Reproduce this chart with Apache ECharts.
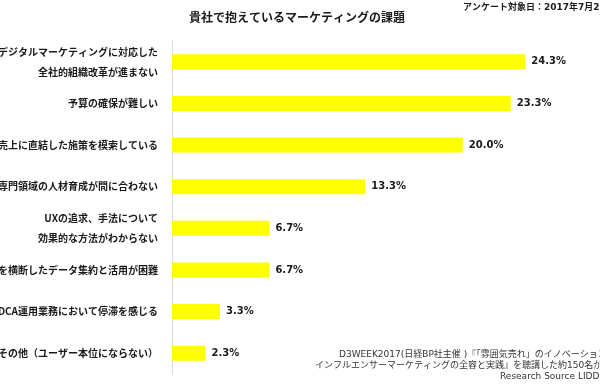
<!DOCTYPE html>
<html>
<head>
<meta charset="utf-8">
<style>html,body{margin:0;padding:0;background:#fff;}#c{width:600px;height:388px;}</style>
<script src="https://cdn.jsdelivr.net/npm/echarts@6/dist/echarts.min.js"></script>
</head>
<body>
<div id="c"></div>
<script>
const categories = [
  'デジタルマーケティングに対応した\n全社的組織改革が進まない',
  '予算の確保が難しい',
  '売上に直結した施策を模索している',
  '専門領域の人材育成が間に合わない',
  'UXの追求、手法について\n効果的な方法がわからない',
  '部署を横断したデータ集約と活用が困難',
  'PDCA運用業務において停滞を感じる',
  'その他（ユーザー本位にならない）'
];
const values = [24.3, 23.3, 20.0, 13.3, 6.7, 6.7, 3.3, 2.3];
const titleText = '貴社で抱えているマーケティングの課題';
const dateText = 'アンケート対象日：2017年7月20日';
const footerLines = [
  'D3WEEK2017(日経BP社主催 )『「雰囲気売れ」のイノベーション',
  'インフルエンサーマーケティングの全容と実践』を聴講した約150名が対象',
  'Research Source LIDDELL'
];

const chart = echarts.init(document.getElementById('c'), null, {renderer: 'canvas'});
const cjk = '"Noto Sans CJK JP", sans-serif';
const latin = '"DejaVu Sans", "Noto Sans CJK JP", sans-serif';
chart.setOption({
  backgroundColor: '#ffffff',
  animation: false,
  grid: {left: 172, right: 50, top: 41, bottom: 14, containLabel: false, outerBoundsMode: 'none'},
  xAxis: {
    type: 'value', min: 0, max: 26,
    show: false
  },
  yAxis: {
    type: 'category',
    data: categories,
    inverse: true,
    axisLine: {show: true, lineStyle: {color: '#d9d9d9', width: 1}},
    axisTick: {show: false},
    splitLine: {show: false},
    axisLabel: {
      margin: 14,
      color: '#1a1a1a',
      fontSize: 10,
      fontWeight: 'bold',
      fontFamily: cjk,
      lineHeight: 20,
      align: 'right'
    }
  },
  series: [{
    type: 'bar',
    data: values,
    barWidth: 15,
    itemStyle: {color: '#ffff00'},
    label: {
      show: true,
      position: 'right',
      distance: 6,
      color: '#1a1a1a',
      fontSize: 10,
      fontWeight: 'bold',
      fontFamily: latin,
      formatter: p => p.value.toFixed(1) + '%'
    }
  }],
  graphic: [
    {type: 'text', x: 297, y: 17, style: {text: titleText, fill: '#1a1a1a', font: 'bold 12px ' + cjk, align: 'center', verticalAlign: 'middle'}},
    {type: 'text', x: 463, y: 8, style: {text: dateText, fill: '#1a1a1a', font: 'bold 9px ' + latin, verticalAlign: 'middle'}},
    {type: 'text', x: 339, y: 355, style: {text: footerLines[0], fill: '#333', font: '9px ' + latin, verticalAlign: 'middle'}},
    {type: 'text', x: 315, y: 366, style: {text: footerLines[1], fill: '#333', font: '9px ' + latin, verticalAlign: 'middle'}},
    {type: 'text', x: 500, y: 377, style: {text: footerLines[2], fill: '#333', font: '9px ' + latin, verticalAlign: 'middle'}}
  ]
});
</script>
</body>
</html>
